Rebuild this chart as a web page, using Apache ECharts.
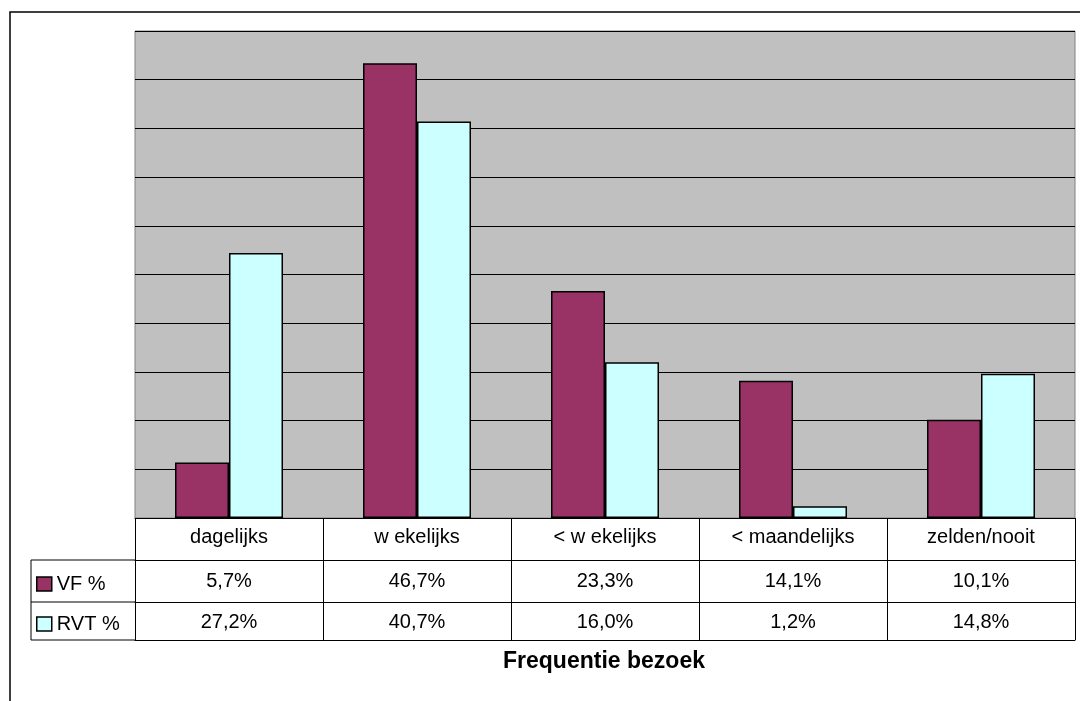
<!DOCTYPE html>
<html><head><meta charset="utf-8">
<script src="https://cdn.jsdelivr.net/npm/echarts@6/dist/echarts.min.js"></script>
<style>html,body{margin:0;padding:0;background:#fff}#c{width:1080px;height:701px}</style>
</head><body><div id="c"></div>
<script>
const categories = ['dagelijks', 'w ekelijks', '< w ekelijks', '< maandelijks', 'zelden/nooit'];
const vfValues = [5.7, 46.7, 23.3, 14.1, 10.1];
const rvtValues = [27.2, 40.7, 16.0, 1.2, 14.8];
const seriesNames = ['VF %', 'RVT %'];
const yMin = 0, yMax = 50, yStep = 5;
const titleText = 'Frequentie bezoek';

const FONT = '"Liberation Sans", Arial, sans-serif';
const fmt = v => v.toFixed(1).replace('.', ',') + '%';
const chart = echarts.init(document.getElementById('c'), null, {renderer: 'canvas'});
const lbl = (m) => ({show: true, color: '#000', fontSize: 20, fontFamily: FONT, margin: m, interval: 0});
const tick = (len) => ({show: true, length: len, interval: 0, lineStyle: {color: '#000', width: 1}});
const line = {show: true, lineStyle: {color: '#000', width: 1}};
const legendBase = {orient: 'vertical', left: 31, padding: 5, itemWidth: 15, itemHeight: 14, itemGap: 5,
  selectedMode: false, icon: 'rect', textStyle: {color: '#000', fontSize: 20, fontFamily: FONT},
  itemStyle: {borderColor: '#000', borderWidth: 1.5}};

chart.setOption({
  animation: false,
  backgroundColor: '#fff',
  textStyle: {fontFamily: FONT},
  grid: {left: 135, right: 5, top: 31, bottom: 183, show: true, backgroundColor: '#C0C0C0',
    borderColor: '#808080', borderWidth: 1, containLabel: false},
  legend: [
    Object.assign({}, legendBase, {top: 569, data: [seriesNames[0]]}),
    Object.assign({}, legendBase, {top: 609, data: [seriesNames[1]]})
  ],
  xAxis: [
    {type: 'category', data: categories, position: 'bottom', offset: 0,
      axisLine: line, axisTick: tick(42), axisLabel: lbl(9), splitLine: {show: false}},
    {type: 'category', data: vfValues.map(fmt), position: 'bottom', offset: 42,
      axisLine: line, axisTick: tick(42), axisLabel: lbl(11), splitLine: {show: false}},
    {type: 'category', data: rvtValues.map(fmt), position: 'bottom', offset: 84,
      axisLine: line, axisTick: tick(38), axisLabel: lbl(10), splitLine: {show: false}},
    {type: 'category', data: categories, position: 'bottom', offset: 122,
      axisLine: line, axisTick: {show: false}, axisLabel: {show: false}, splitLine: {show: false}}
  ],
  yAxis: {type: 'value', min: yMin, max: yMax, interval: yStep,
    axisLine: {show: false}, axisTick: {show: false}, axisLabel: {show: false},
    splitLine: {show: true, lineStyle: {color: '#000', width: 1}}},
  series: [
    {name: seriesNames[0], type: 'bar', xAxisIndex: 0, data: vfValues, barWidth: 54, barGap: '0%',
      itemStyle: {color: '#993366', borderColor: '#000', borderWidth: 1.5}},
    {name: seriesNames[1], type: 'bar', xAxisIndex: 0, data: rvtValues, barWidth: 54, barGap: '0%',
      itemStyle: {color: '#CCFFFF', borderColor: '#000', borderWidth: 1.5}}
  ],
  graphic: [
    {type: 'rect', silent: true, shape: {x: 10, y: 12, width: 1200, height: 800},
      style: {fill: null, stroke: '#000', lineWidth: 1.5}},
    {type: 'polyline', silent: true, shape: {points: [[135, 560], [31, 560], [31, 640], [135, 640]]},
      style: {fill: null, stroke: '#000', lineWidth: 1}},
    {type: 'line', silent: true, shape: {x1: 31, y1: 602, x2: 135, y2: 602},
      style: {stroke: '#000', lineWidth: 1}},
    {type: 'text', silent: true, x: 604, y: 662,
      style: {text: titleText, textAlign: 'center', textVerticalAlign: 'middle',
        font: 'bold 23px "Liberation Sans", Arial, sans-serif', fill: '#000'}}
  ]
});
</script></body></html>
